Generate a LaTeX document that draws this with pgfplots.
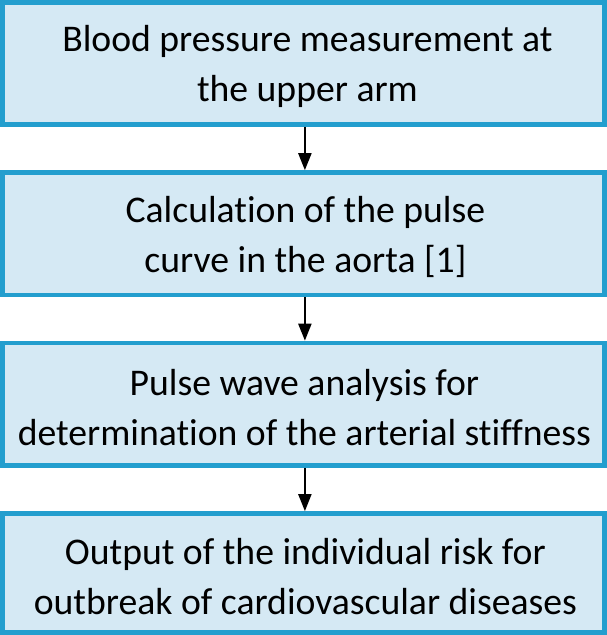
\documentclass[border=0pt]{standalone}
\usepackage{fontspec}
\setmainfont{Carlito}[Ligatures={NoCommon}]
\usepackage{pgfplots}
\pgfplotsset{compat=1.18}
\usetikzlibrary{arrows.meta}
\definecolor{boxborder}{RGB}{35,158,206}
\definecolor{boxfill}{RGB}{213,233,244}
\begin{document}
\begin{tikzpicture}
\begin{axis}[
  width=609bp, height=635bp, scale only axis,
  xmin=0, xmax=609, ymin=0, ymax=635,
  hide axis, clip=false,
]
% boxes (y measured from the bottom)
\addplot[draw=boxborder, fill=boxfill, line width=4.5bp] coordinates {(9.5,627) (606.5,627) (606.5,506) (9.5,506)} --cycle;
\addplot[draw=boxborder, fill=boxfill, line width=4.5bp] coordinates {(9.5,458) (606.5,458) (606.5,337) (9.5,337)} --cycle;
\addplot[draw=boxborder, fill=boxfill, line width=4.5bp] coordinates {(9.5,289) (606.5,289) (606.5,168) (9.5,168)} --cycle;
\addplot[draw=boxborder, fill=boxfill, line width=4.5bp] coordinates {(9.5,120) (606.5,120) (606.5,2) (9.5,2)} --cycle;
% arrows
\addplot[black, line width=2bp, -{Triangle[width=13bp,length=17bp]}] coordinates {(309.5,503.5) (309.5,460.5)};
\addplot[black, line width=2bp, -{Triangle[width=13bp,length=17bp]}] coordinates {(309.5,334.5) (309.5,291.5)};
\addplot[black, line width=2bp, -{Triangle[width=13bp,length=17bp]}] coordinates {(309.5,165.5) (309.5,122.5)};
% texts
\begin{scope}[every node/.style={align=center, font=\fontsize{37.5}{50}\selectfont, inner sep=0pt}]
\node at (axis cs:312,563) {Blood pressure measurement at\\the upper arm};
\node at (axis cs:310,394.5) {Calculation of the pulse\\curve in the aorta [1]};
\node at (axis cs:309,225.5) {Pulse wave analysis for\\determination of the arterial stiffness};
\node at (axis cs:310,58) {Output of the individual risk for\\outbreak of cardiovascular diseases};
\end{scope}
\end{axis}
\end{tikzpicture}
\end{document}
